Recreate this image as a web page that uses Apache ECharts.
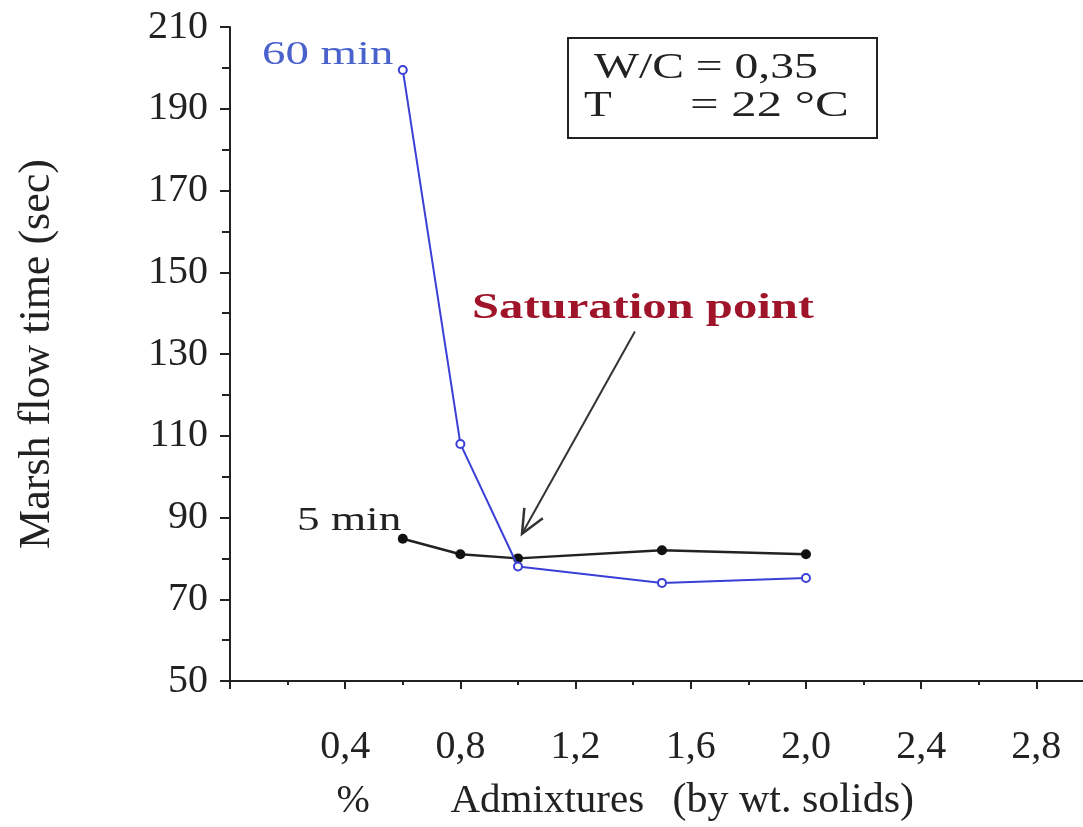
<!DOCTYPE html>
<html>
<head>
<meta charset="utf-8">
<script src="https://cdn.jsdelivr.net/npm/echarts@6/dist/echarts.min.js"></script>
<style>
html,body{margin:0;padding:0;background:#fff;}
#chart{width:1083px;height:827px;}
</style>
</head>
<body>
<div id="chart"></div>
<script>
// ---- data ----
var admixture = [0.6, 0.8, 1.0, 1.5, 2.0];
var flow60min = [199.5, 108, 78, 74, 75.2];
var flow5min = [84.8, 81, 80, 82, 81];
var xMajorTicks = [0, 0.4, 0.8, 1.2, 1.6, 2.0, 2.4, 2.8];
var xMinorTicks = [0.2, 0.6, 1.0, 1.4, 1.8, 2.2, 2.6];
var yMajorTicks = [50, 70, 90, 110, 130, 150, 170, 190, 210];
var yMinorTicks = [60, 80, 100, 120, 140, 160, 180, 200];

var FONT = 'Liberation Serif';
var TXT = '#222';

function pairs(xs, ys) { return xs.map(function (x, i) { return [x, ys[i]]; }); }

var chart = echarts.init(document.getElementById('chart'), null, {renderer: 'canvas'});

var option = {
  backgroundColor: '#fff',
  animation: false,
  grid: {left: 230, right: 0, top: 27, bottom: 126, containLabel: false},
  xAxis: [{
    type: 'value', min: 0, max: 2.962,
    axisLine: {show: true, lineStyle: {color: TXT, width: 2}},
    axisTick: {show: true, customValues: xMajorTicks, length: 8, inside: false, lineStyle: {color: TXT, width: 2}},
    axisLabel: {show: true, customValues: xMajorTicks.slice(1), margin: 46,
      fontFamily: FONT, fontSize: 40, color: TXT,
      formatter: function (v) { return v.toFixed(1).replace('.', ','); }},
    splitLine: {show: false},
    name: '{p|%}{a|Admixtures}{b|(by wt. solids)}',
    nameLocation: 'middle', nameGap: 99,
    nameTextStyle: {
      fontFamily: FONT, fontSize: 40, color: TXT,
      rich: {
        p: {fontFamily: FONT, fontSize: 40, color: TXT, width: 114, align: 'left'},
        a: {fontFamily: FONT, fontSize: 41, color: TXT, width: 222, align: 'left'},
        b: {fontFamily: FONT, fontSize: 42, color: TXT, width: 304, align: 'left'}
      }
    }
  }, {
    type: 'value', min: 0, max: 2.962, position: 'bottom',
    axisLine: {show: false},
    axisTick: {show: true, customValues: xMinorTicks, length: 4, lineStyle: {color: TXT, width: 2}},
    axisLabel: {show: false},
    splitLine: {show: false}
  }],
  yAxis: [{
    type: 'value', min: 50, max: 210,
    axisLine: {show: true, lineStyle: {color: TXT, width: 2}},
    axisTick: {show: true, customValues: yMajorTicks, length: 10, lineStyle: {color: TXT, width: 2}},
    axisLabel: {show: true, customValues: yMajorTicks, margin: 22,
      fontFamily: FONT, fontSize: 40, color: TXT},
    splitLine: {show: false},
    name: 'Marsh flow time (sec)',
    nameLocation: 'middle', nameGap: 171, nameRotate: 90,
    nameTextStyle: {fontFamily: FONT, fontSize: 44, color: TXT}
  }, {
    type: 'value', min: 50, max: 210, position: 'left',
    axisLine: {show: false},
    axisTick: {show: true, customValues: yMinorTicks, length: 8, lineStyle: {color: TXT, width: 2}},
    axisLabel: {show: false},
    splitLine: {show: false}
  }],
  series: [{
    name: '60 min', type: 'line', xAxisIndex: 0, yAxisIndex: 0,
    data: pairs(admixture, flow60min),
    symbol: 'emptyCircle', symbolSize: 8,
    lineStyle: {color: '#3a3fd6', width: 2},
    itemStyle: {color: '#3a3fd6', borderColor: '#3a3fd6', borderWidth: 1.5},
    z: 3
  }, {
    name: '5 min', type: 'line', xAxisIndex: 0, yAxisIndex: 0,
    data: pairs(admixture, flow5min),
    symbol: 'circle', symbolSize: 10,
    lineStyle: {color: '#222', width: 2.5},
    itemStyle: {color: '#111'},
    z: 2
  }]
};
chart.setOption(option);

function px(x, y) { return chart.convertToPixel({xAxisIndex: 0, yAxisIndex: 0}, [x, y]); }

// annotation arrow (data coords)
var a0 = px(1.406, 135.5);
var a1 = px(1.014, 86);
var ang = Math.atan2(a0[1] - a1[1], a0[0] - a1[0]);
var headLen = 26, headSpread = 0.42;
var h1 = [a1[0] + headLen * Math.cos(ang + headSpread), a1[1] + headLen * Math.sin(ang + headSpread)];
var h2 = [a1[0] + headLen * Math.cos(ang - headSpread), a1[1] + headLen * Math.sin(ang - headSpread)];

function label(text, x, y, sx, font, fill) {
  return {type: 'text', x: x, y: y, scaleX: sx, originX: 0, originY: 0, z: 10,
    style: {text: text, x: 0, y: 0, font: font, fill: fill, align: 'left', verticalAlign: 'top'}};
}

chart.setOption({
  graphic: [
    {type: 'line', shape: {x1: a0[0], y1: a0[1], x2: a1[0], y2: a1[1]}, style: {stroke: '#333', lineWidth: 2}},
    {type: 'polyline', shape: {points: [h1, a1, h2]}, style: {stroke: '#333', lineWidth: 2.5, fill: null}},
    label('Saturation point', 472, 291, 1.39, 'bold 35px "Liberation Serif"', '#a0142a'),
    label('60 min', 262, 39, 1.42, '33px "Liberation Serif"', '#4a62cc'),
    label('5 min', 297, 505, 1.37, '33px "Liberation Serif"', '#222'),
    {type: 'rect', shape: {x: 568, y: 38, width: 309, height: 100}, style: {stroke: '#222', lineWidth: 2, fill: '#fff'}},
    label('W/C = 0,35', 594, 51, 1.36, '35px "Liberation Serif"', '#222'),
    label('T', 584, 89, 1.3, '35px "Liberation Serif"', '#222'),
    label('= 22 °C', 690, 89, 1.45, '35px "Liberation Serif"', '#222')
  ]
});
</script>
</body>
</html>
